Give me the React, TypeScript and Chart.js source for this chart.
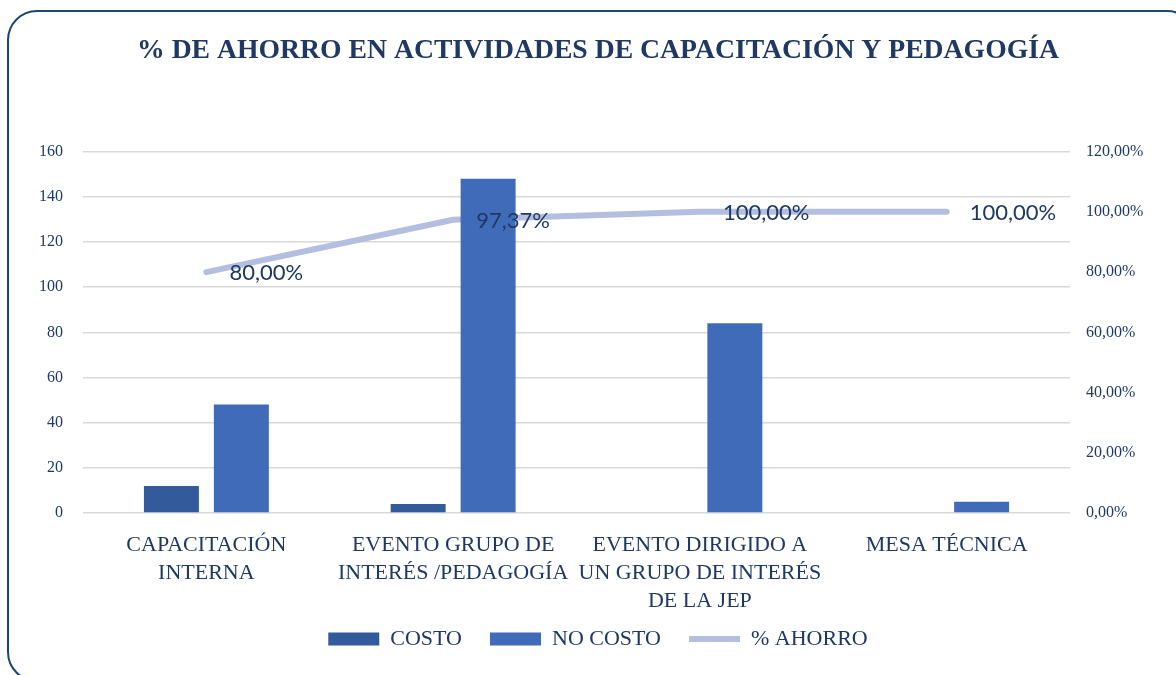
import React, { useEffect, useRef } from "react";
import { Chart, registerables } from "chart.js";

Chart.register(...registerables);

const TITLE = "% DE AHORRO EN ACTIVIDADES DE CAPACITACIÓN Y PEDAGOGÍA";
const categories: string[][] = [
  ["CAPACITACIÓN", "INTERNA"],
  ["EVENTO GRUPO DE", "INTERÉS /PEDAGOGÍA"],
  ["EVENTO DIRIGIDO A", "UN GRUPO DE INTERÉS", "DE LA JEP"],
  ["MESA TÉCNICA"],
];
const costo = [12, 4, 0, 0];
const noCosto = [48, 148, 84, 5];
const ahorro = [0.8, 0.9737, 1.0, 1.0];

const NAVY = "#1F3864";
const SERIF = "'Liberation Serif', 'DejaVu Serif', serif";

const fmtPct = (v: number) => (v * 100).toFixed(2).replace(".", ",") + "%";

const lineLabels = {
  id: "lineLabels",
  afterDatasetsDraw(chart: any) {
    const ctx = chart.ctx;
    const meta = chart.getDatasetMeta(2);
    ctx.save();
    ctx.font = "22px Lato, 'Open Sans', sans-serif";
    ctx.fillStyle = NAVY;
    ctx.textAlign = "left";
    ctx.textBaseline = "middle";
    meta.data.forEach((pt: any, i: number) => {
      ctx.fillText(fmtPct(ahorro[i]), pt.x + 23, pt.y + 1);
    });
    ctx.restore();
  },
};

// lift the legend a little so it sits just under the category labels
const legendLift = {
  id: "legendLift",
  afterLayout(chart: any) {
    const lg = chart.legend;
    if (!lg) return;
    const dy = 13;
    lg.top -= dy;
    lg.bottom -= dy;
    if (lg.legendHitBoxes) lg.legendHitBoxes.forEach((h: any) => (h.top -= dy));
  },
};

export default function App() {
  const ref = useRef<HTMLCanvasElement>(null);
  useEffect(() => {
    if (!ref.current) return;
    const chart = new Chart(ref.current, {
      type: "bar",
      data: {
        labels: categories,
        datasets: [
          {
            type: "bar",
            label: "COSTO",
            data: costo,
            backgroundColor: "#335A9A",
            yAxisID: "y",
            order: 1,
            pointStyle: "rect",
            categoryPercentage: 0.567,
            barPercentage: 0.786,
          } as any,
          {
            type: "bar",
            label: "NO COSTO",
            data: noCosto,
            backgroundColor: "#3F6BB9",
            yAxisID: "y",
            order: 2,
            pointStyle: "rect",
            categoryPercentage: 0.567,
            barPercentage: 0.786,
          } as any,
          {
            type: "line",
            label: "% AHORRO",
            data: ahorro,
            borderColor: "#B4BEE0",
            backgroundColor: "#B4BEE0",
            borderWidth: 6,
            borderCapStyle: "round",
            borderJoinStyle: "round",
            pointRadius: 0,
            pointStyle: "line",
            yAxisID: "y1",
            order: 3,
          } as any,
        ],
      },
      options: {
        responsive: false,
        animation: false,
        layout: { padding: { left: 20, right: 0, top: 0, bottom: 2 } },
        plugins: {
          title: {
            display: true,
            text: TITLE,
            color: NAVY,
            font: { family: SERIF, size: 27.7, weight: "bold" },
            padding: { top: 34, bottom: 84.4 },
          },
          legend: {
            position: "bottom",
            labels: {
              usePointStyle: true,
              pointStyleWidth: 51,
              boxHeight: 13,
              padding: 28,
              color: NAVY,
              font: { family: SERIF, size: 22 },
            },
          },
          tooltip: { enabled: false },
        },
        scales: {
          x: {
            grid: { display: false },
            border: { display: false },
            ticks: {
              color: NAVY,
              font: { family: SERIF, size: 22, lineHeight: 1.273 },
              padding: 10,
              maxRotation: 0,
              autoSkip: false,
            },
            afterFit: (s: any) => {
              s.height = 100;
            },
          },
          y: {
            position: "left",
            min: 0,
            max: 160,
            ticks: {
              stepSize: 20,
              color: NAVY,
              font: { family: SERIF, size: 16 },
              padding: 20,
            },
            grid: { color: "#D9D9D9", lineWidth: 1.5, drawTicks: false },
            border: { display: false },
            afterFit: (s: any) => {
              s.width = 63;
            },
          },
          y1: {
            position: "right",
            min: 0,
            max: 1.2,
            ticks: {
              stepSize: 0.2,
              color: NAVY,
              font: { family: SERIF, size: 16 },
              padding: 16,
              callback: (v: any) => fmtPct(Number(v)),
            },
            grid: { display: false, drawTicks: false },
            border: { display: false },
            afterFit: (s: any) => {
              s.width = 106;
            },
          },
        },
      },
      plugins: [lineLabels, legendLift],
    });
    return () => chart.destroy();
  }, []);

  return (
    <div
      style={{
        position: "fixed",
        left: 0,
        top: 0,
        width: 1176,
        height: 675,
        overflow: "hidden",
        background: "#fff",
      }}
    >
      <div
        style={{
          position: "absolute",
          left: 7,
          top: 10,
          width: 1190,
          height: 672,
          border: "2.5px solid #1B456E",
          borderRadius: 30,
          boxSizing: "border-box",
        }}
      />
      <canvas
        ref={ref}
        width={1176}
        height={675}
        style={{ position: "absolute", left: 0, top: 0 }}
      />
    </div>
  );
}
